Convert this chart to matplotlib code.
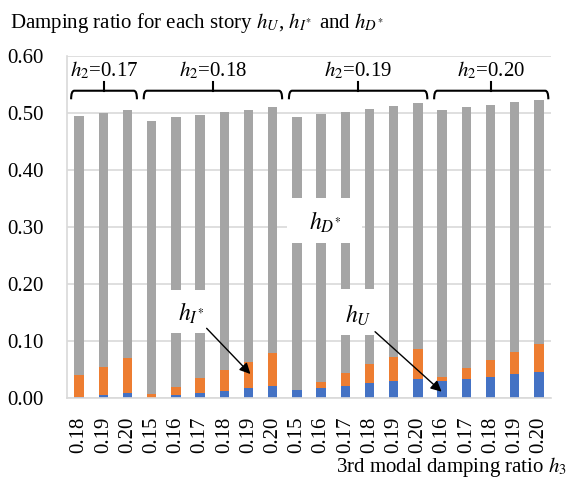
import numpy as np
import matplotlib
matplotlib.use("Agg")
import matplotlib.pyplot as plt
from matplotlib.patches import Rectangle, PathPatch
from matplotlib.path import Path

plt.rcParams['font.family'] = ['Liberation Serif', 'DejaVu Serif']
plt.rcParams['mathtext.fontset'] = 'stix'

# ---- data ----
h3_labels = ['0.18', '0.19', '0.20',
             '0.15', '0.16', '0.17', '0.18', '0.19', '0.20',
             '0.15', '0.16', '0.17', '0.18', '0.19', '0.20',
             '0.16', '0.17', '0.18', '0.19', '0.20']
h2_labels = ['0.17', '0.18', '0.19', '0.20']
group_sizes = [3, 6, 6, 5]

h_U = [0.002, 0.005, 0.009,
       0.001, 0.005, 0.010, 0.013, 0.0175, 0.0215,
       0.0146, 0.0187, 0.0216, 0.0263, 0.0304, 0.0333,
       0.0304, 0.0345, 0.038, 0.0421, 0.0462]
h_I = [0.039, 0.0505, 0.061,
       0.0066, 0.0155, 0.0257, 0.0367, 0.0465, 0.0575,
       0.0004, 0.0105, 0.0223, 0.0333, 0.0427, 0.0532,
       0.0076, 0.0181, 0.0293, 0.0386, 0.0491]
h_D = [0.454, 0.4455, 0.435,
       0.4794, 0.4725, 0.4618, 0.4523, 0.442, 0.4315,
       0.479, 0.4698, 0.4584, 0.4479, 0.4399, 0.431,
       0.468, 0.4579, 0.4472, 0.4383, 0.4277]

c_blue = '#4472c4'
c_orange = '#ed7d31'
c_gray = '#a5a5a5'
c_grid = '#d9d9d9'

HI = r'h_{I^{\!*}}'
HD = r'h_{D^{\!*}}'

fig = plt.figure(figsize=(5.74, 4.82), dpi=100)
ax = fig.add_axes([67/574, 83.7/482, 484/574, 342/482])

x = np.arange(len(h3_labels))
hU = np.array(h_U); hI = np.array(h_I); hD = np.array(h_D)
w = 0.39
ax.bar(x, hU, w, color=c_blue, zorder=2)
ax.bar(x, hI, w, bottom=hU, color=c_orange, zorder=2)
ax.bar(x, hD, w, bottom=hU + hI, color=c_gray, zorder=2)

ax.set_xlim(-0.5, len(x) - 0.5)
ax.set_ylim(0, 0.6)
ax.set_yticks(np.arange(0, 0.61, 0.1))
ax.set_yticklabels([f'{v:.2f}' for v in np.arange(0, 0.61, 0.1)], fontsize=15)
ax.set_xticks(x)
ax.set_xticklabels(h3_labels, rotation=90, fontsize=15)
ax.tick_params(axis='y', length=0, pad=16.8)
ax.tick_params(axis='x', length=0, pad=13)
ax.set_axisbelow(True)
ax.yaxis.grid(True, color=c_grid, lw=1.2)
for s in ['top', 'right']:
    ax.spines[s].set_visible(False)
for s in ['left', 'bottom']:
    ax.spines[s].set_color(c_grid)
    ax.spines[s].set_linewidth(1.2)

# white label boxes covering bars
for (x0, x1, y0, y1) in [(8.59, 11.69, 0.273, 0.3514),
                         (3.22, 5.74, 0.1146, 0.190),
                         (10.24, 12.76, 0.111, 0.1918)]:
    ax.add_patch(Rectangle((x0, y0), x1 - x0, y1 - y0, facecolor='white',
                           edgecolor='none', zorder=3))

ax.text(10.16, 0.309, '$' + HD + '$', fontsize=17, ha='center', va='center', zorder=4)
ax.text(4.63, 0.1497, '$' + HI + '$', fontsize=17, ha='center', va='center', zorder=4)
ax.text(11.52, 0.146, r'$h_U$', fontsize=17, ha='center', va='center', zorder=4)

ax.annotate('', xy=(7.08, 0.0426), xytext=(5.27, 0.1228),
            arrowprops=dict(arrowstyle='-|>', color='black', lw=1.0,
                            mutation_scale=16, shrinkA=0, shrinkB=0), zorder=5)
ax.annotate('', xy=(14.98, 0.0116), xytext=(12.23, 0.1168),
            arrowprops=dict(arrowstyle='-|>', color='black', lw=1.0,
                            mutation_scale=16, shrinkA=0, shrinkB=0), zorder=5)

# group brackets
ybot, ymid, ytop = 0.5246, 0.5396, 0.5554
r = 0.13
start = 0
for lab, n in zip(h2_labels, group_sizes):
    x0 = start - 0.33
    x1 = start + n - 1 + 0.39
    xm = (x0 + x1) / 2
    verts = [(x0, ybot), (x0, ymid), (x0 + r, ymid), (x1 - r, ymid),
             (x1, ymid), (x1, ybot)]
    codes = [Path.MOVETO, Path.CURVE3, Path.CURVE3, Path.LINETO,
             Path.CURVE3, Path.CURVE3]
    ax.add_patch(PathPatch(Path(verts, codes), facecolor='none',
                           edgecolor='black', lw=1.5, zorder=4))
    ax.plot([xm, xm], [ymid, ytop], color='black', lw=1.5, zorder=4)
    ax.text(xm, 0.575, r'$h_2$=' + lab, fontsize=15, ha='center', va='center', zorder=4)
    start += n

fig.text(10/574, 1 - 28.3/482,
         'Damping ratio for each story $h_U$, $' + HI + '$ and $' + HD + '$',
         fontsize=15, ha='left', va='baseline')
fig.text(566.7/574, 10.3/482, r'3rd modal damping ratio $h_3$', fontsize=15,
         ha='right', va='baseline')

fig.savefig('out.png', dpi=100)
